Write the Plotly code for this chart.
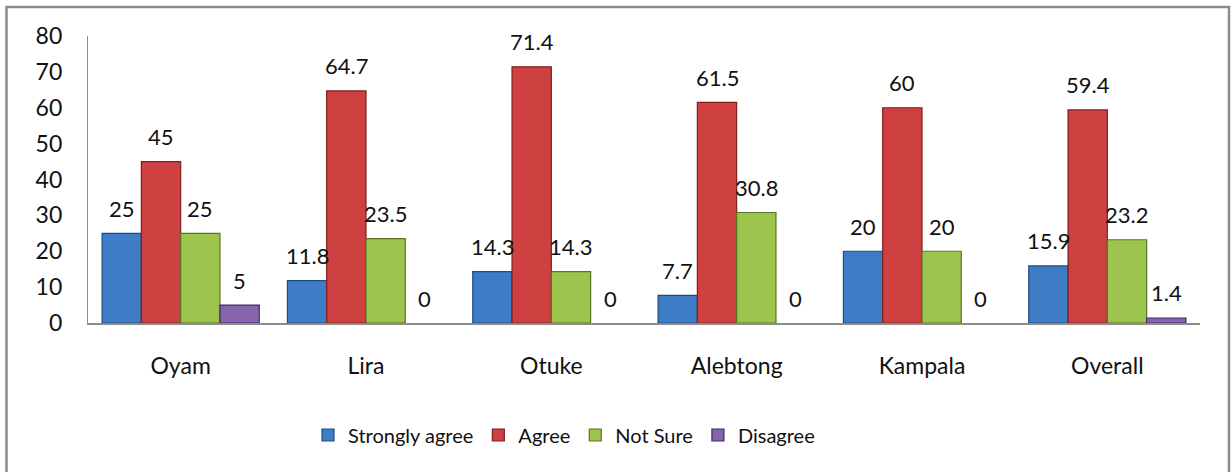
import plotly.graph_objects as go

# Survey responses by district (percent)
districts = ["Oyam", "Lira", "Otuke", "Alebtong", "Kampala", "Overall"]
strongly_agree = [25, 11.8, 14.3, 7.7, 20, 15.9]
agree = [45, 64.7, 71.4, 61.5, 60, 59.4]
not_sure = [25, 23.5, 14.3, 30.8, 20, 23.2]
disagree = [5, 0, 0, 0, 0, 1.4]
y_ticks = [0, 10, 20, 30, 40, 50, 60, 70, 80]

series = [
    ("Strongly agree", strongly_agree, "#3F7CC6", "#1F4A82"),
    ("Agree", agree, "#CF4040", "#7E1E1E"),
    ("Not Sure", not_sure, "#9DC44C", "#5A7524"),
    ("Disagree", disagree, "#8565AD", "#3F2C5E"),
]

FONT = "Lato, Calibri, Carlito, sans-serif"
TXT = "#111111"
bar_w = 0.212
start = -2 * bar_w
xs = list(range(len(districts)))

fig = go.Figure()
annotations = []
for k, (name, vals, fill, edge) in enumerate(series):
    off = start + k * bar_w
    fig.add_trace(go.Bar(
        x=xs, y=vals, name=name,
        offset=off, width=bar_w,
        marker=dict(color=fill,
                    line=dict(color=edge, width=[1.2 if v else 0 for v in vals])),
        hoverinfo="skip",
    ))
    for xi, v in zip(xs, vals):
        annotations.append(dict(
            x=xi + off + bar_w / 2, y=v, xref="x", yref="y",
            text=f"{v:g}", showarrow=False, yanchor="middle", yshift=25,
            font=dict(family=FONT, size=22, color=TXT),
        ))

# plot-area pixel bounds, used to place the frame and legend
px_l, px_r, py_t, py_b = 88, 1200, 36, 323
def to_px(x):
    return (x - px_l) / (px_r - px_l)
def to_py(y):
    return (py_b - y) / (py_b - py_t)

fig.update_layout(
    width=1231, height=472,
    margin=dict(l=px_l, r=1231 - px_r, t=py_t, b=472 - py_b),
    paper_bgcolor="white", plot_bgcolor="white",
    barmode="overlay",
    showlegend=True,
    legend=dict(
        orientation="h", x=to_px(308), xanchor="left",
        y=to_py(435), yanchor="middle",
        font=dict(family=FONT, size=20, color=TXT),
        itemwidth=30, traceorder="normal",
    ),
    annotations=annotations,
    shapes=[dict(
        type="rect", xref="paper", yref="paper",
        x0=to_px(6.5), x1=to_px(1229), y0=to_py(7), y1=to_py(490),
        line=dict(color="#8C8C8C", width=2.5), fillcolor="rgba(0,0,0,0)",
        layer="below",
    )],
    xaxis=dict(
        range=[-0.5, len(districts) - 0.5],
        tickmode="array", tickvals=xs, ticktext=districts,
        showgrid=False, zeroline=False,
        showline=True, linecolor="#8C8C8C", linewidth=1.5,
        ticks="", ticklabelstandoff=22,
        tickfont=dict(family=FONT, size=23, color=TXT),
    ),
    yaxis=dict(
        range=[0, 80], tickmode="array", tickvals=y_ticks,
        showgrid=False, zeroline=False,
        showline=True, linecolor="#8C8C8C", linewidth=1.2,
        ticks="", ticklabelstandoff=20,
        tickfont=dict(family=FONT, size=23, color=TXT),
    ),
)

fig.write_html("out.html")
